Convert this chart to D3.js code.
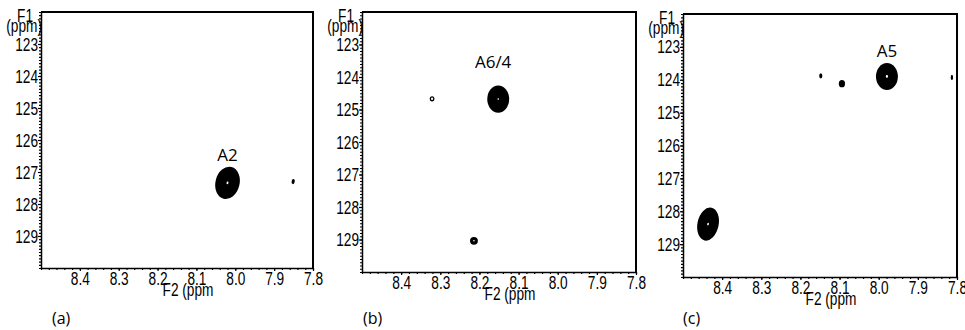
<!DOCTYPE html>
<html>
<head>
<meta charset="utf-8">
<script src="https://cdn.jsdelivr.net/npm/d3@7"></script>
<style>
    body { margin: 0; background: #fff; }
    .tick text, .axis-title { font-family: "Liberation Sans Narrow", sans-serif; font-size: 19px; fill: #000; }
    .peak-label, .panel-name { font-family: "Open Sans", sans-serif; fill: #000; }
</style>
</head>
<body>
<script>
/* ----------------------------------------------------------------------------
Three HSQC style 2D NMR panels (F2 proton vs F1 nitrogen), drawn with D3
-----------------------------------------------------------------------------*/

// shared axis values
var f2Domain = [8.5, 7.8],
    f1Domain = [122, 130],
    f2Ticks = [8.4, 8.3, 8.2, 8.1, 8.0, 7.9, 7.8],
    f1Ticks = [123, 124, 125, 126, 127, 128, 129];

var panelNames = ["(a)", "(b)", "(c)"];

// peaks: centre (f2, f1) and half widths (w2, w1) in ppm, tilt in degrees,
// hole = size of the white centre relative to the peak
var peaksA = [
    {f2: 8.020, f1: 127.34, w2: 0.031, w1: 0.51, tilt: 14, hole: 0.08},
    {f2: 7.851, f1: 127.30, w2: 0.004, w1: 0.08, tilt: 10, hole: 0}
];
var peaksB = [
    {f2: 8.152, f1: 124.68, w2: 0.028, w1: 0.42, tilt: 0, hole: 0.06},
    {f2: 8.321, f1: 124.67, w2: 0.006, w1: 0.08, tilt: 0, hole: 0.45},
    {f2: 8.214, f1: 129.04, w2: 0.010, w1: 0.12, tilt: 0, hole: 0.12}
];
var peaksC = [
    {f2: 7.979, f1: 123.90, w2: 0.028, w1: 0.41, tilt: 0, hole: 0.1},
    {f2: 8.094, f1: 124.12, w2: 0.008, w1: 0.11, tilt: 0, hole: 0},
    {f2: 8.148, f1: 123.88, w2: 0.004, w1: 0.08, tilt: 0, hole: 0},
    {f2: 7.813, f1: 123.93, w2: 0.003, w1: 0.08, tilt: 0, hole: 0},
    {f2: 8.436, f1: 128.39, w2: 0.027, w1: 0.51, tilt: 12, hole: 0.08}
];

// assignment labels
var labelsA = [{text: "A2", f2: 8.020, f1: 126.47}];
var labelsB = [{text: "A6/4", f2: 8.165, f1: 123.54}];
var labelsC = [{text: "A5", f2: 7.979, f1: 123.12}];

var peakSets = [peaksA, peaksB, peaksC],
    labelSets = [labelsA, labelsB, labelsC];

// each panel is a slightly different size, like the scanned figure
var frames = [
    {left: 41, top: 12, right: 313, bottom: 268, nameX: 52},
    {left: 362, top: 12, right: 636, bottom: 272, nameX: 363},
    {left: 683, top: 14, right: 957, bottom: 277, nameX: 683}
];

var squeeze = 0.72;   // tick font is drawn narrow

var svg = d3.select("body").append("svg")
    .attr("width", 965)
    .attr("height", 330);

frames.forEach(function(fr, i){
    var x = d3.scaleLinear().domain(f2Domain).range([fr.left, fr.right]),
        y = d3.scaleLinear().domain(f1Domain).range([fr.top, fr.bottom]);

    var panel = svg.append("g").attr("class", "panel");

    // peaks first so the frame sits on top
    peakSets[i].forEach(function(p){
        var rx = Math.abs(x(p.f2 + p.w2) - x(p.f2)),
            ry = Math.abs(y(p.f1 + p.w1) - y(p.f1));
        var g = panel.append("g")
            .attr("transform", "translate(" + x(p.f2) + "," + y(p.f1) + ") rotate(" + p.tilt + ")");
        g.append("ellipse")
            .attr("rx", rx)
            .attr("ry", ry)
            .style("fill", "#000");
        if(p.hole > 0){
            g.append("ellipse")
                .attr("rx", Math.max(rx * p.hole, 0.8))
                .attr("ry", Math.max(ry * p.hole, 0.8))
                .style("fill", "#fff");
        }
    });

    // top and right edges of the frame
    panel.append("path")
        .attr("d", "M" + fr.left + "," + fr.top + "H" + fr.right + "V" + fr.bottom)
        .style("fill", "none")
        .style("stroke", "#000")
        .style("stroke-width", 2);

    // minor ticks (dotted look)
    panel.append("g")
        .attr("transform", "translate(" + fr.left + ",0)")
        .call(d3.axisLeft(y).tickValues(d3.range(122, 130.001, 0.1)).tickSize(2).tickFormat(""))
        .call(function(g){ g.select(".domain").remove(); });
    panel.append("g")
        .attr("transform", "translate(0," + fr.bottom + ")")
        .call(d3.axisBottom(x).tickValues(d3.range(7.8, 8.501, 0.02)).tickSize(2).tickFormat(""))
        .call(function(g){ g.select(".domain").remove(); });

    // major axes
    var yAxis = panel.append("g")
        .attr("transform", "translate(" + fr.left + ",0)")
        .call(d3.axisLeft(y).tickValues(f1Ticks).tickSize(3).tickPadding(0).tickSizeOuter(0)
            .tickFormat(d3.format("d")));
    yAxis.selectAll(".tick text")
        .attr("x", -3 / squeeze)
        .attr("transform", "scale(" + squeeze + ",1)");

    var xAxis = panel.append("g")
        .attr("transform", "translate(0," + fr.bottom + ")")
        .call(d3.axisBottom(x).tickValues(f2Ticks).tickSize(3).tickPadding(1).tickSizeOuter(0)
            .tickFormat(d3.format(".1f")));
    xAxis.selectAll(".tick text")
        .attr("transform", "scale(" + squeeze + ",1)");

    panel.selectAll(".domain").style("stroke-width", 1.5);
    panel.selectAll(".tick line").style("stroke-width", 1.2);

    // axis titles
    panel.append("text")
        .attr("class", "axis-title")
        .attr("text-anchor", "end")
        .attr("transform", "translate(" + (fr.left - 8) + "," + (fr.top + 10) + ") scale(" + squeeze + ",1)")
        .text("F1");
    panel.append("text")
        .attr("class", "axis-title")
        .attr("text-anchor", "end")
        .attr("transform", "translate(" + (fr.left + 1) + "," + (fr.top + 20) + ") scale(" + squeeze + ",1)")
        .text("(ppm)");
    panel.append("text")
        .attr("class", "axis-title")
        .attr("text-anchor", "middle")
        .attr("transform", "translate(" + ((fr.left + fr.right) / 2 + 11) + "," + (fr.bottom + 28) + ") scale(" + squeeze + ",1)")
        .text("F2 (ppm");

    // peak assignments
    panel.selectAll(".peak-label")
        .data(labelSets[i])
        .enter().append("text")
        .attr("class", "peak-label")
        .attr("x", function(d){ return x(d.f2); })
        .attr("y", function(d){ return y(d.f1); })
        .attr("dy", "0.36em")
        .attr("text-anchor", "middle")
        .style("font-size", "17px")
        .text(function(d){ return d.text; });

    // panel letter
    panel.append("text")
        .attr("class", "panel-name")
        .attr("x", fr.nameX)
        .attr("y", 324)
        .style("font-size", "16px")
        .text(panelNames[i]);
});
</script>
</body>
</html>
